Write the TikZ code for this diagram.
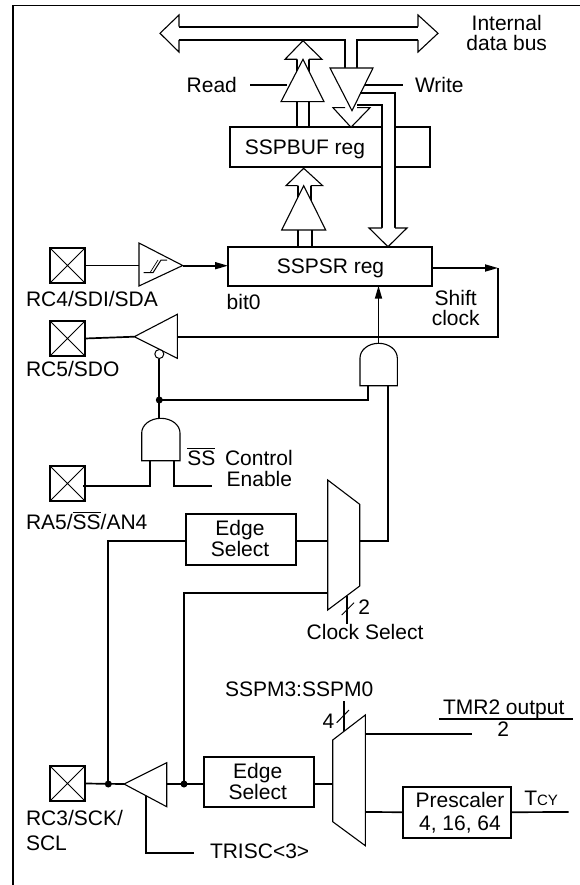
\documentclass[tikz,border=0pt]{standalone}
\usepackage{fontspec}
\setmainfont{Liberation Sans}
\usetikzlibrary{arrows.meta}
\newcommand{\ovlbar}[1]{\leavevmode\vbox{\hrule height 0.8pt\kern 2pt\hbox{#1}}}
\tikzset{
  wire/.style={line width=1.7pt,line cap=butt,line join=miter},
  fine/.style={line width=1.1pt,line join=miter,fill=white},
  open/.style={line width=1.1pt,line join=miter},
  head/.style={-{Triangle[length=13pt,width=7pt]}},
  lab/.style={inner sep=0pt,outer sep=0pt,anchor=base west,font=\fontsize{21}{25}\selectfont},
  clab/.style={lab,anchor=base},
  regbox/.style={draw,line width=1.7pt,fill=white,inner sep=0pt,outer sep=0pt,anchor=north west},
  pad/.style={regbox,minimum width=35pt,minimum height=35pt,
    path picture={\draw[line width=.8pt] (path picture bounding box.north west)--(path picture bounding box.south east)
      (path picture bounding box.north east)--(path picture bounding box.south west);}},
  dot/.style={circle,fill=black,inner sep=0pt,minimum size=7pt,outer sep=0pt},
  bubble/.style={circle,draw,fill=white,line width=1pt,inner sep=0pt,minimum size=9pt,outer sep=0pt},
}
\begin{document}
\begin{tikzpicture}[x=1pt,y=-1pt]
\useasboundingbox (0,0) rectangle (580,885);
% frame
\draw[wire,line width=1.8pt] (13,885) -- (13,5.5) -- (580,5.5);

% registers
\node[regbox,minimum width=200pt,minimum height=40pt] (buf) at (230,127) {};
\node[regbox,minimum width=204pt,minimum height=39pt] (sr) at (228,246.7) {};
\node[clab] (buft) at (305,154.3) {SSPBUF reg};
\node[clab] (srt) at (330.5,273.3) {SSPSR reg};

% pads
\node[pad] (p1) at (50,248) {};
\node[pad] (p2) at (50,321) {};
\node[pad] (p3) at (50,466) {};
\node[pad] (p4) at (50,766) {};

% internal data bus
\draw[wire] (345,68) -- (345,40) -- (179,40);
\draw[wire] (357,68) -- (357,40) -- (418,40);
\draw[wire] (179,26.7) -- (418,26.7);
\draw[open] (179,26.7) -- (179,15) -- (160,33.3) -- (179,52) -- (179,40);
\draw[open] (418,26.7) -- (418,15) -- (438,33.3) -- (418,52) -- (418,40);

% read path
\draw[wire] (297,59) -- (297,85) (309,59) -- (309,85);
\draw[wire] (297,102) -- (297,127) (309,102) -- (309,127);
\draw[fine] (297,59.3) -- (285,59.3) -- (303,40.7) -- (322,59.3) -- (309,59.3);
\draw[fine] (303,59.3) -- (281,101.7) -- (324,101.7) -- cycle;
\draw[wire] (250,85) -- (287,85);
\node[lab] (read) at (186.7,92.7) {Read};

% write path
\draw[fine] (345,107.7) -- (333,107.7) -- (351,127.3) -- (370,107.7) -- (357,107.7);
\draw[fine] (330,68) -- (373,68) -- (352,110.7) -- cycle;
\draw[wire] (365,85) -- (403,85);
\node[lab] (write) at (415,92.7) {Write};
\fill[white] (382.8,125) rectangle (394.2,169);
\draw[wire] (360,93.3) -- (395,93.3) -- (395,228);
\draw[wire] (357,105.3) -- (382,105.3) -- (382,228);
\draw[fine] (382,228) -- (369,228) -- (388,246.7) -- (407,228) -- (395,228);

% SSPSR to SSPBUF
\draw[wire] (297.7,185) -- (297.7,205) (311,185) -- (311,205);
\draw[wire] (297.7,230) -- (297.7,246.7) (311.7,230) -- (311.7,246.7);
\draw[fine] (297.7,185.7) -- (286,185.7) -- (303.7,168.3) -- (322.7,185.7) -- (311,185.7);
\draw[fine] (303.7,185.7) -- (281.7,230) -- (325.7,230) -- cycle;

% serial input
\draw[wire] (p1.east) -- (139,265.5);
\draw[fine] (139,243) -- (182.7,265.5) -- (139,286) -- cycle;
\draw[line width=1pt] (143.5,272.7) -- (153,272.7) -- (161,260) -- (167,260);
\draw[line width=.7pt] (150,272.7) -- (158,260);
\draw[wire,head] (182.7,265.7) -- (228,265.7);
\node[lab] (l1) at (26,306.7) {RC4/SDI/SDA};
\node[lab] (bit0) at (226.7,309) {bit0};

% serial output
\draw[wire] (p2.east) -- (134.3,336.7);
\draw[fine] (134.3,336.7) -- (177.3,314.3) -- (177.3,358.3) -- cycle;
\coordinate (cornerB) at (498,336.7);
\coordinate (cornerT) at (498,268);
\draw[wire] (177.3,336.7) -- (cornerB) -- (cornerT);
\draw[wire,head] (431,268) -- (cornerT);
\node[clab] (shift) at (455.7,305) {Shift};
\node[clab] (clock) at (455.7,325.7) {clock};
\node[lab] (l2) at (26,376.7) {RC5/SDO};

% enable AND gate
\coordinate (g2pin) at (159.3,418.3);
\node[dot] (d0) at (159.3,400) {};
\node[bubble] (bub) at (159.3,354) {};
\draw[wire] (bub.south) -- (d0.center) -- (g2pin);
\draw[wire] (d0.center) -- (368.3,400) -- (368.3,385.7);
\draw[fine] (141.7,460.7) -- (141.7,433) arc[start angle=180,end angle=360,x radius=19.15,y radius=14.7] -- (180,460.7) -- cycle;
\draw[wire] (150,460.7) -- (150,485.7) -- (83.3,485.7);
\draw[wire] (174,460.7) -- (174,485.7) -- (211.7,485.7);
\node[lab] (ss) at (187.3,465) {\ovlbar{SS}};
\node[lab] (ctl) at (225,465) {Control};
\node[lab] (en) at (226.7,486) {Enable};
\node[lab] (l3) at (26,529) {RA5/\ovlbar{SS}/AN4};

% clock AND gate
\draw[fine] (360,385.7) -- (360,358) arc[start angle=180,end angle=360,x radius=18.65,y radius=14.7] -- (397.3,385.7) -- cycle;
\draw[wire,head] (378.5,343.3) -- (378.5,285.7);

% edge select 1
\node[regbox,minimum width=110.3pt,minimum height=51pt] (e1) at (185.7,514) {};
\node[clab] (e1a) at (240,535) {Edge};
\node[clab] (e1b) at (240,556.7) {Select};
\node[dot] (d1) at (108.3,784) {};
\node[dot] (d2) at (184,784) {};
\draw[wire] (185.7,540.7) -| (d1.center);
\draw[wire] (d2.center) -- (184,592.7) -- (327.7,592.7);
\draw[wire] (296,541) -- (327.7,541);

% clock mux
\draw[wire] (359.7,541) -- (388,541) -- (388,385.7);
\draw[fine] (327.7,480) -- (359.7,504.3) -- (359.7,586) -- (327.7,610) -- cycle;
\draw[wire] (346.7,596) -- (346.7,624.3);
\draw[line width=1pt] (341.7,615) -- (354,602.7);
\node[lab] (two) at (358.3,614) {2};
\node[lab] (cs) at (306.7,639.3) {Clock Select};

% SCK buffer
\draw[wire] (p4.east) -- (124,784);
\draw[fine] (124,784) -- (166.7,762.7) -- (166.7,806.7) -- cycle;
\node[regbox,minimum width=110pt,minimum height=50pt] (e2) at (204,756.7) {};
\draw[wire] (166.7,784) -- (204,784);
\draw[wire] (146,796) -- (146,852.7) -- (194.3,852.7);
\node[lab] (tr) at (210,858.3) {TRISC<3>};
\node[lab] (l4a) at (26,825) {RC3/SCK/};
\node[lab] (l4b) at (26,850) {SCL};
\node[clab] (e2a) at (257.7,778) {Edge};
\node[clab] (e2b) at (257.7,799) {Select};

% mode mux
\draw[wire] (314,784) -- (332.7,784);
\draw[wire] (343.7,701) -- (343.7,731.5);
\draw[fine] (332.7,740) -- (365.3,715) -- (365.3,845.7) -- (332.7,821.7) -- cycle;
\draw[line width=1pt] (336.7,722.7) -- (349,710);
\node[lab] (four) at (322.7,728.3) {4};
\node[lab] (sspm) at (225,696) {SSPM3:SSPM0};

% TMR2
\draw[wire] (365.3,734) -- (471.7,734);
\node[clab] (tmr) at (503.7,714) {TMR2 output};
\draw[wire] (439.3,719) -- (572.7,719);
\node[clab] (tmrb) at (503.3,736) {2};

% prescaler
\node[regbox,minimum width=108.3pt,minimum height=51pt] (pre) at (402.7,786.7) {};
\node[clab] (prea) at (460,807.7) {Prescaler};
\node[clab] (preb) at (460,830) {4, 16, 64};
\draw[wire] (365.3,812) -- (pre.west);
\draw[wire] (pre.east) -- (568.7,812);
\node[lab] (tcy) at (524.3,805.7) {T{\fontsize{15}{18}\selectfont CY}};

% bus label
\node[clab] (b1) at (506.7,30.7) {Internal};
\node[clab] (b2) at (506.7,50.7) {data bus};
\end{tikzpicture}
\end{document}
